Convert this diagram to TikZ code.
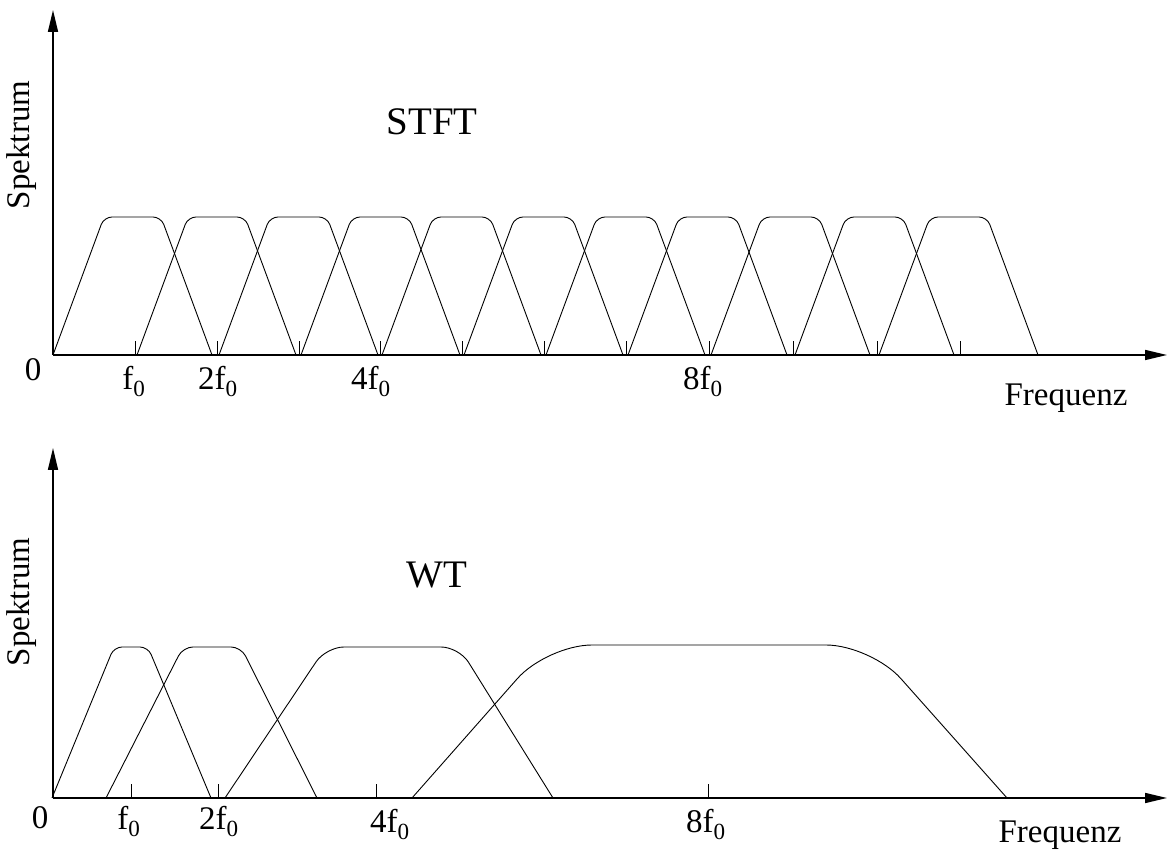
\documentclass[tikz,border=0pt]{standalone}
\usepackage{fontspec}
\setmainfont{Liberation Serif}
\usetikzlibrary{arrows.meta}

\begin{document}
\begin{tikzpicture}[x=1pt, y=1pt, >={Triangle[length=22pt, width=10pt]}]
        \tikzset{
            axis/.style={line width=1.6pt, ->},
            win/.style={line width=0.9pt},
            tickmark/.style={line width=0.9pt},
            lbl/.style={font=\fontsize{33}{36}\selectfont, inner sep=0pt},
            ttl/.style={font=\fontsize{39}{42}\selectfont, inner sep=0pt}
        }
        \path[use as bounding box] (0, 0) rectangle (1168, 857);
        % STFT
        \coordinate (o1) at (53, 502);
        \coordinate (y1) at (53, 847);
        \coordinate (x1) at (1167, 502);
        \foreach \x in {135, 217, 299, 380, 462, 544, 626, 709, 793, 877, 960} {
            \draw[tickmark] (\x, 502) -- (\x, 516);
        }
        \foreach \a in {53, 137, 219, 301, 382, 464, 546, 628, 711, 795, 879} {
            \draw[win, rounded corners=8pt] (\a, 502) -- ++(51, 138) -- ++(57, 0) -- ++(51, -138);
        }
        \draw[axis] (o1) -- (y1);
        \draw[axis] (o1) -- (x1);
        \node[lbl, rotate=90] (sp1) at (22, 712) {Spektrum};
        \node[ttl] (stft) at (432, 735) {STFT};
        \node[lbl] (n1) at (33, 487) {0};
        \node[lbl, anchor=base] (f1) at (134, 467) {f\textsubscript{0}};
        \node[lbl, anchor=base] (f2) at (218, 467) {2f\textsubscript{0}};
        \node[lbl, anchor=base] (f4) at (371, 467) {4f\textsubscript{0}};
        \node[lbl, anchor=base] (f8) at (703, 467) {8f\textsubscript{0}};
        \node[lbl, anchor=base] (fq1) at (1066, 451) {Frequenz};
        % WT
        \coordinate (o2) at (53, 59);
        \coordinate (y2) at (53, 409);
        \coordinate (x2) at (1167, 59);
        \foreach \x in {131, 218, 376, 708} {
            \draw[tickmark] (\x, 59) -- (\x, 73);
        }
        \draw[win, rounded corners=8pt] (52, 59) -- (114, 210) -- (148, 210) -- (211, 59);
        \draw[win, rounded corners=10pt] (106, 59) -- (183, 210) -- (241, 210) -- (317, 59);
        \draw[win, rounded corners=18pt] (225, 59) -- (326, 210) -- (459, 210) -- (553, 59);
        \draw[win, rounded corners=45pt] (412, 59) -- (547, 212) -- (871, 212) -- (1007, 59);
        \draw[axis] (o2) -- (y2);
        \draw[axis] (o2) -- (x2);
        \node[lbl, rotate=90] (sp2) at (22, 255) {Spektrum};
        \node[ttl] (wt) at (437, 282) {WT};
        \node[lbl] (n2) at (40, 39) {0};
        \node[lbl, anchor=base] (g1) at (129, 27) {f\textsubscript{0}};
        \node[lbl, anchor=base] (g2) at (219, 27) {2f\textsubscript{0}};
        \node[lbl, anchor=base] (g4) at (390, 24) {4f\textsubscript{0}};
        \node[lbl, anchor=base] (g8) at (706, 24) {8f\textsubscript{0}};
        \node[lbl, anchor=base] (fq2) at (1060, 14) {Frequenz};
\end{tikzpicture}
\end{document}
